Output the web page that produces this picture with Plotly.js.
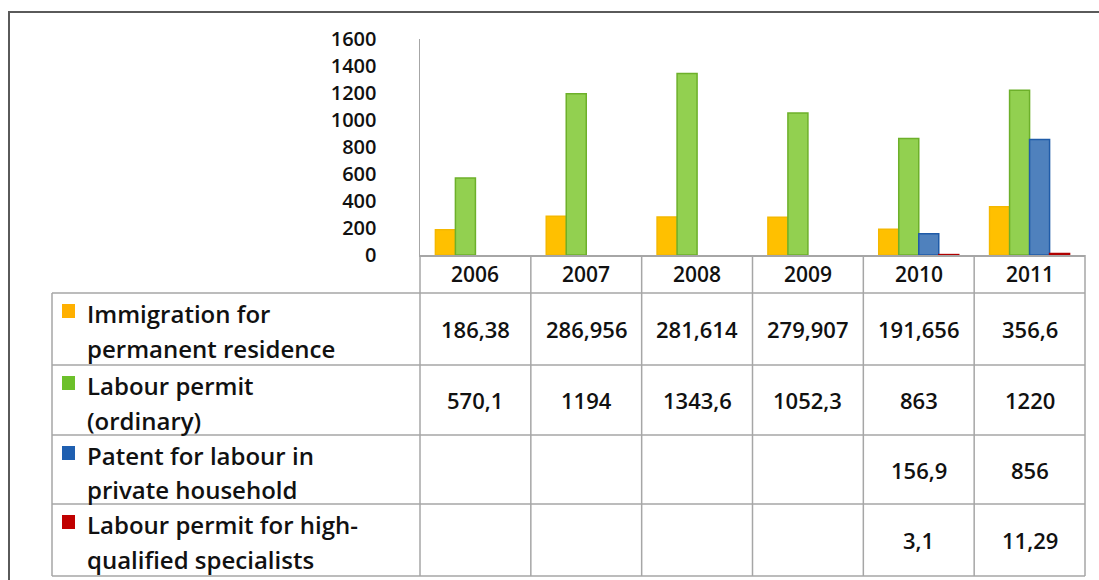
<!DOCTYPE html>
<html>
<head>
<meta charset="utf-8">
<script src="https://cdn.plot.ly/plotly-3.0.1.min.js"></script>
<style>
  html, body { margin: 0; padding: 0; background: #fff; }
  #chart { width: 1099px; height: 580px; }
</style>
</head>
<body>
<div id="chart"></div>
<script>
// ---- Data ----
const years = ['2006', '2007', '2008', '2009', '2010', '2011'];
const seriesNames = [
  'Immigration for<br>permanent residence',
  'Labour permit<br>(ordinary)',
  'Patent for labour in<br>private household',
  'Labour permit for high-<br>qualified specialists'
];
const immigration = [186.38, 286.956, 281.614, 279.907, 191.656, 356.6];
const labourPermit = [570.1, 1194, 1343.6, 1052.3, 863, 1220];
const patent = [null, null, null, null, 156.9, 856];
const highQualified = [null, null, null, null, 3.1, 11.29];
const yTickValues = [0, 200, 400, 600, 800, 1000, 1200, 1400, 1600];

// ---- Styles ----
const fills = ['#FFC000', '#92D050', '#4F81BD', '#C0504D'];
const edges = ['#F5B800', '#6DB02A', '#1F5BA8', '#B00000'];
const legendSq = ['#FFB000', '#6CC02A', '#1F5FB0', '#C00000'];
const FONT = '"Open Sans", "Noto Sans", sans-serif';
const W = 1099, H = 580;
const L = 420, R = 1085, T = 39, B = 255;
const px = v => (v - L) / (R - L);
const py = v => (B - v) / (B - T);
const nCat = years.length;
const catCenter = i => (i + 0.5) / nCat;   // paper x of a category centre
const catEdge = i => i / nCat;             // paper x of a category boundary

const allSeries = [immigration, labourPermit, patent, highQualified];
const traces = allSeries.map((vals, i) => ({
  type: 'bar',
  x: years,
  y: vals,
  name: seriesNames[i],
  marker: { color: fills[i], line: { color: edges[i], width: 1.5 } },
  hoverinfo: 'x+y'
}));

// ---- Table geometry ----
const tableLeft = 52;
const headerBottom = 293;
const rowBounds = [293, 365, 435, 504, 576];
const gridColor = '#A6A6A6';
const shapes = [];
const annotations = [];

// outer frame
shapes.push({ type: 'rect', xref: 'paper', yref: 'paper',
  x0: px(9), x1: px(1115), y0: py(12), y1: py(600),
  line: { color: '#5a5a5a', width: 2 } });

// column boundaries (through header and body)
for (let i = 0; i <= nCat; i++) {
  shapes.push({ type: 'line', xref: 'paper', yref: 'paper',
    x0: catEdge(i), x1: catEdge(i), y0: py(B), y1: py(rowBounds[rowBounds.length - 1]),
    line: { color: gridColor, width: 1.5 } });
}
// left edge of label column
shapes.push({ type: 'line', xref: 'paper', yref: 'paper',
  x0: px(tableLeft), x1: px(tableLeft), y0: py(rowBounds[0]), y1: py(rowBounds[rowBounds.length - 1]),
  line: { color: gridColor, width: 1.5 } });
// horizontal lines
rowBounds.forEach(yv => {
  shapes.push({ type: 'line', xref: 'paper', yref: 'paper',
    x0: px(tableLeft), x1: 1, y0: py(yv), y1: py(yv),
    line: { color: gridColor, width: 1.5 } });
});

// year headers
years.forEach((yr, i) => {
  annotations.push({ xref: 'paper', yref: 'paper', x: catCenter(i), y: py((B + headerBottom) / 2),
    text: yr, showarrow: false, xanchor: 'center', yanchor: 'middle',
    font: { family: FONT, size: 21, color: '#111', weight: 600 } });
});

// row labels, legend squares and values
const lineOffsets = [20, 55];
allSeries.forEach((vals, r) => {
  const top = rowBounds[r], bot = rowBounds[r + 1];
  const mid = (top + bot) / 2;
  const lines = seriesNames[r].split('<br>');
  lines.forEach((ln, k) => {
    annotations.push({ xref: 'paper', yref: 'paper', x: px(85), y: py(top + lineOffsets[k]),
      text: ln, showarrow: false, xanchor: 'left', yanchor: 'middle',
      font: { family: FONT, size: 24, color: '#111', weight: 600 } });
  });
  const sqC = top + lineOffsets[0] - 2;
  shapes.push({ type: 'rect', xref: 'paper', yref: 'paper',
    x0: px(62), x1: px(75), y0: py(sqC - 7), y1: py(sqC + 7),
    fillcolor: legendSq[r], line: { width: 0 } });
  vals.forEach((v, i) => {
    if (v === null) return;
    annotations.push({ xref: 'paper', yref: 'paper', x: catCenter(i), y: py(mid),
      text: String(v).replace('.', ','), showarrow: false, xanchor: 'center', yanchor: 'middle',
      font: { family: FONT, size: 22, color: '#111', weight: 600 } });
  });
});

const layout = {
  width: W, height: H,
  margin: { l: L, r: W - R, t: T, b: H - B, pad: 0 },
  paper_bgcolor: '#fff', plot_bgcolor: '#fff',
  barmode: 'group', bargap: 0.278, bargroupgap: 0,
  showlegend: false,
  xaxis: { type: 'category', range: [-0.5, 5.5], showticklabels: false, ticks: '',
    showgrid: false, zeroline: false, showline: true, linecolor: gridColor, linewidth: 1.5,
    fixedrange: true },
  yaxis: { range: [0, 1600], tickvals: yTickValues, showgrid: false, zeroline: false,
    showline: true, linecolor: gridColor, linewidth: 1.5, ticks: '',
    ticklabelstandoff: 38,
    tickfont: { family: FONT, size: 20, color: '#111', weight: 600 }, fixedrange: true },
  shapes: shapes,
  annotations: annotations,
  font: { family: FONT }
};

Plotly.newPlot('chart', traces, layout, { displayModeBar: false, staticPlot: true });
</script>
</body>
</html>
